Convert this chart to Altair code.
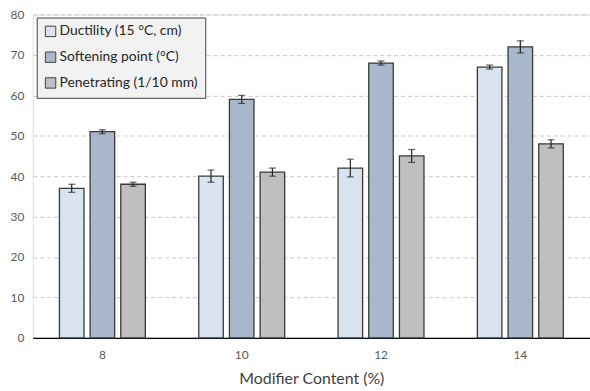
import altair as alt
import pandas as pd

# Modifier content levels and measured properties (mean and +/- error)
contents = ["8", "10", "12", "14"]
series = ["Ductility (15 °C, cm)", "Softening point (°C)", "Penetrating (1/10 mm)"]
ductility = [37, 40, 42, 67]
ductility_err = [1.0, 1.5, 2.2, 0.5]
softening = [51, 59, 68, 72]
softening_err = [0.5, 1.0, 0.5, 1.5]
penetrating = [38, 41, 45, 48]
penetrating_err = [0.5, 1.0, 1.6, 1.0]
colors = ["#dae3f0", "#a9b7ca", "#bfbfc1"]

rows = []
for name, vals, errs in zip(series, [ductility, softening, penetrating],
                            [ductility_err, softening_err, penetrating_err]):
    for c, v, e in zip(contents, vals, errs):
        rows.append({"content": c, "series": name, "value": v,
                     "lo": v - e, "hi": v + e})
df = pd.DataFrame(rows)

FONT = "Lato"

x = alt.X("content:N", sort=contents, title="Modifier Content (%)",
          scale=alt.Scale(paddingInner=0, paddingOuter=0),
          axis=alt.Axis(labelAngle=0, ticks=False, labelPadding=12,
                        labelFontSize=12, labelColor="#595959",
                        titleFontSize=16, titleFontWeight="normal",
                        titleColor="#404040", titlePadding=10,
                        domainColor="#000000", domainWidth=1.3))
xoff = alt.XOffset("series:N", sort=series,
                   scale=alt.Scale(paddingInner=0.2, paddingOuter=0.87))
y = alt.Y("value:Q", title=None,
          scale=alt.Scale(domain=[0, 80], nice=False),
          axis=alt.Axis(values=list(range(0, 81, 10)), ticks=False,
                        labelPadding=9, labelFontSize=12, labelColor="#595959",
                        domain=False, gridDash=[4, 3], gridColor="#c8c8c8"))

base = alt.Chart(df)

bars = base.mark_bar(stroke="#3a3a3a", strokeWidth=1.3).encode(
    x=x, xOffset=xoff, y=y,
    color=alt.Color("series:N", sort=series,
                    scale=alt.Scale(domain=series, range=colors),
                    legend=alt.Legend(title=None, orient="none", legendX=4,
                                      legendY=3, symbolType="square",
                                      symbolSize=110, symbolStrokeColor="#404040",
                                      symbolStrokeWidth=1, labelFontSize=14,
                                      labelColor="#262626", rowPadding=10,
                                      labelOffset=2, padding=7,
                                      fillColor="#f2f2f2",
                                      strokeColor="#404040")))

whisker = base.mark_rule(color="#222222", strokeWidth=1.2).encode(
    x=x, xOffset=xoff, y="lo:Q", y2="hi:Q")
cap_lo = base.mark_tick(color="#222222", thickness=1.2, size=7, orient="horizontal").encode(
    x=x, xOffset=xoff, y="lo:Q")
cap_hi = base.mark_tick(color="#222222", thickness=1.2, size=7, orient="horizontal").encode(
    x=x, xOffset=xoff, y="hi:Q")

chart = alt.layer(bars, whisker, cap_lo, cap_hi).properties(
    width=562, height=326,
    autosize=alt.AutoSizeParams(type="none"),
    padding={"left": 33, "top": 13, "right": 0, "bottom": 52},
).configure_view(stroke="#7f7f7f", strokeWidth=1.3).configure(
    font=FONT, background="white")

chart.save("out.html", embed_options={"renderer": "svg", "actions": False})
